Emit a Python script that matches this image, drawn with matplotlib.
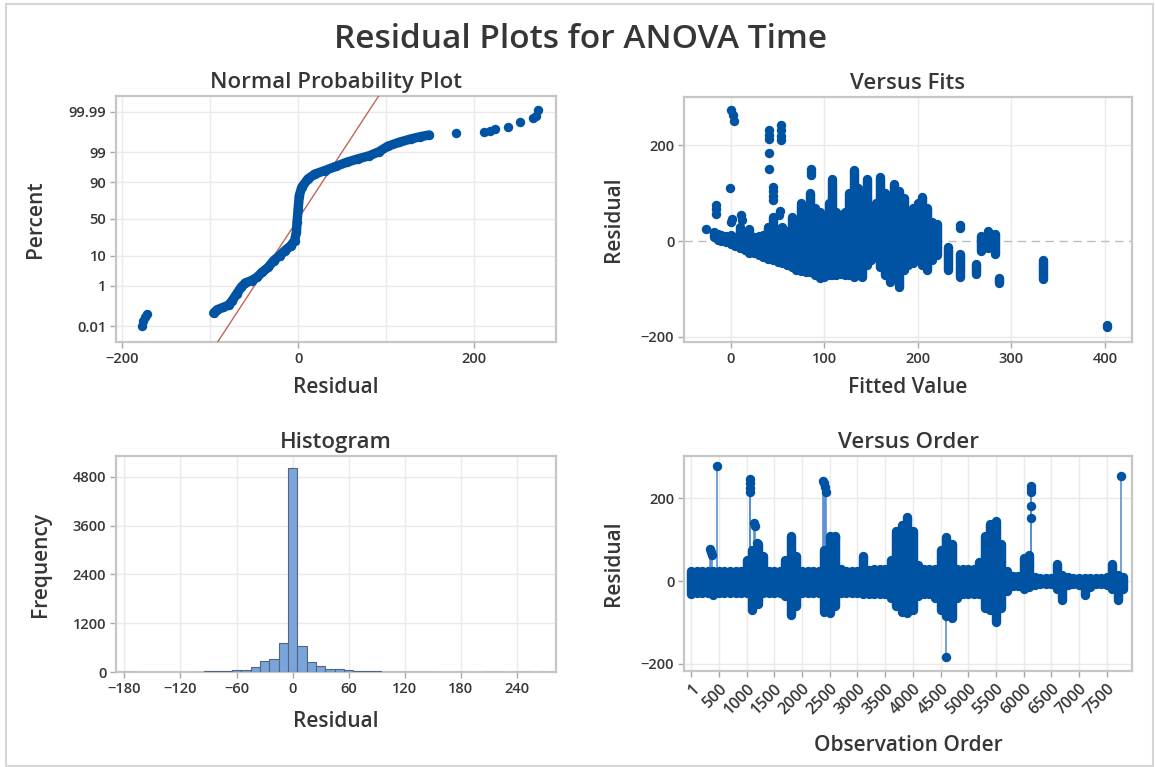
import numpy as np
import matplotlib
matplotlib.use("Agg")
import matplotlib.pyplot as plt
from matplotlib.patches import Rectangle
from statistics import NormalDist

plt.rcParams['font.family'] = ['Open Sans', 'DejaVu Sans']

# ---------------- data ----------------
# Normal probability plot: residual quantiles and plotting percents
npp_resid = [-178, -176, -174, -172,
             -96, -92, -85, -79, -75, -70, -65, -60, -53, -47, -41, -34, -28, -21,
             -15, -8.5, -4, -2, -1.3, 0, 1.3, 4, 11, 19, 30, 43, 55, 68, 81, 92,
             102, 115, 128, 139, 149,
             179, 211, 218, 224, 239, 252, 267, 270, 273]
npp_pct = [0.0104, 0.0208, 0.0313, 0.0483,
           0.0538, 0.0816, 0.107, 0.139, 0.226, 0.453, 0.866, 1.32, 1.62, 2.12, 3.22,
           4.65, 7.35, 10.2, 13.6, 17.6, 22.7, 32.3, 45.2, 63.7, 79.1, 86.4, 91.8,
           94.1, 95.35, 96.64, 97.56, 98.17, 98.61, 99.04, 99.43, 99.62, 99.73,
           99.79, 99.825,
           99.86, 99.87, 99.89, 99.91, 99.934, 99.964, 99.977, 99.983, 99.992]
npp_curve_first, npp_curve_last = 4, 38     # indices of the dense run of points
resid_mean, resid_sd = 0.0, 21.4            # fitted normal reference line
npp_ticks = [0.01, 1, 10, 50, 90, 99, 99.99]
npp_ticklabels = ['0.01', '1', '10', '50', '90', '99', '99.99']

# Versus fits: dense stripes of residuals at each fitted value
fit_col_x = [-18, -14, -10, -5, 0, 5, 10, 15, 20, 25, 30, 35, 40, 45, 50, 55, 60, 65,
             70, 75, 80, 85, 90, 95, 100, 105, 108, 112, 118, 122, 126, 132, 136, 140,
             146, 150, 155, 160, 165, 170, 175, 180, 185, 190, 195, 200, 205, 210, 215,
             220, 232, 245, 262, 268, 275, 282, 287, 334, 402]
fit_col_lo = [8, 3, 0, -3, -6, -10, -14, -18, -24, -26, -30, -33, -37, -40, -43, -45,
              -50, -55, -60, -62, -65, -65, -70, -78, -75, -72, -70, -72, -68, -70, -70,
              -75, -70, -76, -50, -40, -30, -55, -72, -85, -80, -96, -60, -50, -45, -35,
              -50, -60, -40, -30, -61, -75, -68, -20, -15, -27, -88, -79, -180]
fit_col_hi = [18, 15, 12, 10, 12, 8, 30, 10, 25, 8, 10, 12, 30, 50, 25, 30, 20, 50, 30,
              80, 60, 100, 70, 60, 50, 80, 130, 60, 55, 60, 100, 148, 110, 90, 130, 60,
              80, 134, 100, 90, 120, 105, 90, 60, 70, 80, 92, 70, 40, 35, -13, -27, -47,
              10, 22, 15, -78, -40, -175]
# Versus fits: separate points
fit_pt_x = [-27, -16, -16, -16, 0.5, 2, 3.5, -1, 0, 1, 11, 12, 41, 41, 41, 41, 41,
            54, 54, 54, 54, 45, 45, 45, 45, 52, 53, 86, 86, 86, 245, 245]
fit_pt_y = [26, 57, 66, 76, 274, 263, 251, 110, 40, 47, 54, 45, 232, 222, 214, 183, 151,
            242, 232, 220, 211, 113, 104, 95, 86, 54, 62, 137, 144, 151, 33, 28]

# Histogram of residuals (bin midpoints, width 10)
hist_mid = [-180, -170, -100, -90, -80, -70, -60, -50, -40, -30, -20, -10, 0, 10, 20,
            30, 40, 50, 60, 70, 80, 90, 100, 110, 120, 130, 140, 150, 180, 210, 220,
            240, 250, 270]
hist_count = [12, 10, 8, 15, 20, 30, 38, 55, 120, 270, 330, 725, 5010, 630, 245, 140,
              83, 78, 42, 33, 20, 28, 12, 10, 10, 8, 8, 6, 8, 8, 6, 6, 6, 5]
hist_width = 10

# Versus order: residual range per block of observations
ord_obs = list(range(0, 7900, 100))
ord_lo = [-30, -28, -28, -28, -34, -28, -28, -28, -28, -28,
          -28, -70, -55, -28, -28, -28, -28, -35, -82, -60,
          -28, -28, -28, -28, -75, -78, -60, -28, -28, -28,
          -28, -30, -30, -30, -30, -30, -40, -60, -75, -78,
          -70, -35, -32, -32, -40, -70, -85, -90, -40, -32,
          -32, -32, -30, -66, -70, -98, -66, -25, -12, -12,
          -18, -14, -10, -8, -8, -8, -20, -46, -10, -8,
          -10, -34, -15, -8, -8, -10, -20, -46, -20]
ord_hi = [24, 24, 24, 24, 24, 24, 24, 24, 24, 24,
          50, 76, 90, 60, 24, 24, 24, 50, 110, 60,
          24, 24, 24, 24, 75, 110, 110, 30, 24, 24,
          24, 60, 28, 30, 30, 30, 50, 120, 135, 154,
          120, 40, 30, 30, 30, 75, 106, 90, 30, 30,
          30, 30, 45, 110, 138, 146, 90, 25, 12, 12,
          55, 62, 10, 8, 8, 8, 42, 15, 10, 8,
          8, 8, 8, 8, 8, 10, 42, 15, 10]
# Versus order: isolated observations away from the main band
spk_obs = [330, 350, 370, 470, 1055, 1058, 1062, 1065, 1140, 1150, 1180,
           2380, 2400, 2420, 2440, 2520, 2560, 2600, 4600,
           6126, 6128, 6130, 6135, 6140, 7755]
spk_val = [78, 70, 64, 278, 246, 236, 225, 214, 140, 132, 92,
           242, 236, 228, 216, 106, 98, 106, -182,
           230, 222, 214, 182, 152, 254]
ord_ticks = [1, 500, 1000, 1500, 2000, 2500, 3000, 3500, 4000, 4500, 5000, 5500,
             6000, 6500, 7000, 7500]

# ---------------- styling ----------------
BLUE = '#0053A3'
TEXT = '#363636'
GRID = '#EAEAEA'
SPINE = '#C6C6C6'
MS = 6.8  # marker diameter in points
TICK_FS = 10.5
LABEL_FS = 15
TITLE_FS = 16

_nd = NormalDist()
_ppf = np.vectorize(_nd.inv_cdf, otypes=[float])
_cdf = np.vectorize(_nd.cdf, otypes=[float])


def pct_to_z(p):
    p = np.clip(np.asarray(p, dtype=float) / 100.0, 1e-12, 1 - 1e-12)
    return _ppf(p)


def z_to_pct(z):
    return 100.0 * _cdf(np.asarray(z, dtype=float))


def style(ax):
    for s in ax.spines.values():
        s.set_color(SPINE)
        s.set_linewidth(1.6)
    ax.tick_params(which='major', colors=TEXT, labelsize=TICK_FS, length=4, width=1,
                   color='#A8A8A8', pad=3)
    ax.tick_params(which='minor', length=0)
    ax.grid(True, which='both', color=GRID, lw=1.0)
    ax.set_axisbelow(True)
    for lab in ax.get_xticklabels() + ax.get_yticklabels():
        lab.set_fontweight('semibold')


def labels(ax, title, xl, yl, xpad=4, ypad=6):
    ax.set_title(title, fontsize=TITLE_FS, color=TEXT, fontweight='semibold', pad=6)
    ax.set_xlabel(xl, fontsize=LABEL_FS, color=TEXT, fontweight='semibold', labelpad=xpad)
    ax.set_ylabel(yl, fontsize=LABEL_FS, color=TEXT, fontweight='semibold', labelpad=ypad)


fig = plt.figure(figsize=(11.55, 7.67), dpi=100)
fig.patches.append(Rectangle((6 / 1155, 1 / 767), 1147 / 1155, 762 / 767,
                             transform=fig.transFigure, fill=False,
                             edgecolor='#D6D6D6', lw=1.5))

fig.text(0.503, 0.948, 'Residual Plots for ANOVA Time', ha='center', va='center',
         fontsize=24, color=TEXT, fontweight='semibold')

# ---- Normal probability plot ----
ax1 = fig.add_axes([116 / 1155, 1 - 342 / 767, 440 / 1155, 246 / 767])
ax1.set_yscale('function', functions=(pct_to_z, z_to_pct))
ax1.set_xlim(-207, 293)
ax1.set_ylim(z_to_pct(-4.275), z_to_pct(4.275))
ax1.set_xticks([-200, 0, 200])
ax1.set_xticks([-100, 100], minor=True)
ax1.set_yticks(npp_ticks)
ax1.set_yticklabels(npp_ticklabels)
ax1.yaxis.set_minor_locator(matplotlib.ticker.NullLocator())
line_x = np.array([-130.0, 130.0])
ax1.plot(line_x, z_to_pct((line_x - resid_mean) / resid_sd), color='#C0665A', lw=1.0,
         zorder=3)
cx = npp_resid[npp_curve_first:npp_curve_last + 1]
cy = npp_pct[npp_curve_first:npp_curve_last + 1]
ax1.plot(cx, cy, color=BLUE, lw=MS, solid_capstyle='round', solid_joinstyle='round',
         zorder=4)
ax1.scatter(npp_resid, npp_pct, s=MS ** 2, color=BLUE, lw=0, zorder=5)
style(ax1)
labels(ax1, 'Normal Probability Plot', 'Residual', 'Percent', xpad=8, ypad=16)

# ---- Versus fits ----
ax2 = fig.add_axes([684 / 1155, 1 - 342 / 767, 448 / 1155, 245 / 767])
ax2.set_xlim(-50, 429)
ax2.set_ylim(-211, 301)
ax2.set_xticks([0, 100, 200, 300, 400])
ax2.axhline(0, color='#BDBDBD', lw=1.0, ls=(0, (6, 4)), zorder=1)
vc = ax2.vlines(fit_col_x, fit_col_lo, fit_col_hi, color=BLUE, lw=MS, zorder=3)
vc.set_capstyle('round')
ax2.scatter(fit_pt_x, fit_pt_y, s=MS ** 2, color=BLUE, lw=0, zorder=4)
ax2.set_yticks([-200, 0, 200])
style(ax2)
ax2.yaxis.get_gridlines()[1].set_visible(False)
labels(ax2, 'Versus Fits', 'Fitted Value', 'Residual', xpad=8, ypad=12)

# ---- Histogram ----
ax3 = fig.add_axes([116 / 1155, 95 / 767, 440 / 1155, 216 / 767])
ax3.bar(hist_mid, hist_count, width=hist_width, color='#79A5DA', edgecolor='#56657A',
        lw=0.8, zorder=3)
ax3.set_xlim(-189, 282)
ax3.set_ylim(0, 5310)
ax3.set_xticks([-180, -120, -60, 0, 60, 120, 180, 240])
ax3.set_yticks([0, 1200, 2400, 3600, 4800])
style(ax3)
labels(ax3, 'Histogram', 'Residual', 'Frequency', xpad=11, ypad=16)

# ---- Versus order ----
ax4 = fig.add_axes([684 / 1155, 96 / 767, 448 / 1155, 215 / 767])
ax4.set_xlim(-131, 7957)
ax4.set_ylim(-217, 302)
ax4.vlines(spk_obs, 0, spk_val, color='#5C8FD2', lw=1.2, zorder=2)
oc = ax4.vlines(ord_obs, ord_lo, ord_hi, color=BLUE, lw=MS, zorder=3)
oc.set_capstyle('round')
ax4.scatter(spk_obs, spk_val, s=MS ** 2, color=BLUE, lw=0, zorder=4)
ax4.set_xticks(ord_ticks)
ax4.set_xticklabels([str(t) for t in ord_ticks], rotation=45, ha='right',
                    rotation_mode='anchor')
ax4.set_yticks([-200, 0, 200])
style(ax4)
ax4.tick_params(axis='x', labelsize=11.5)
labels(ax4, 'Versus Order', 'Observation Order', 'Residual', xpad=12, ypad=12)

fig.savefig('out.png', dpi=100)
